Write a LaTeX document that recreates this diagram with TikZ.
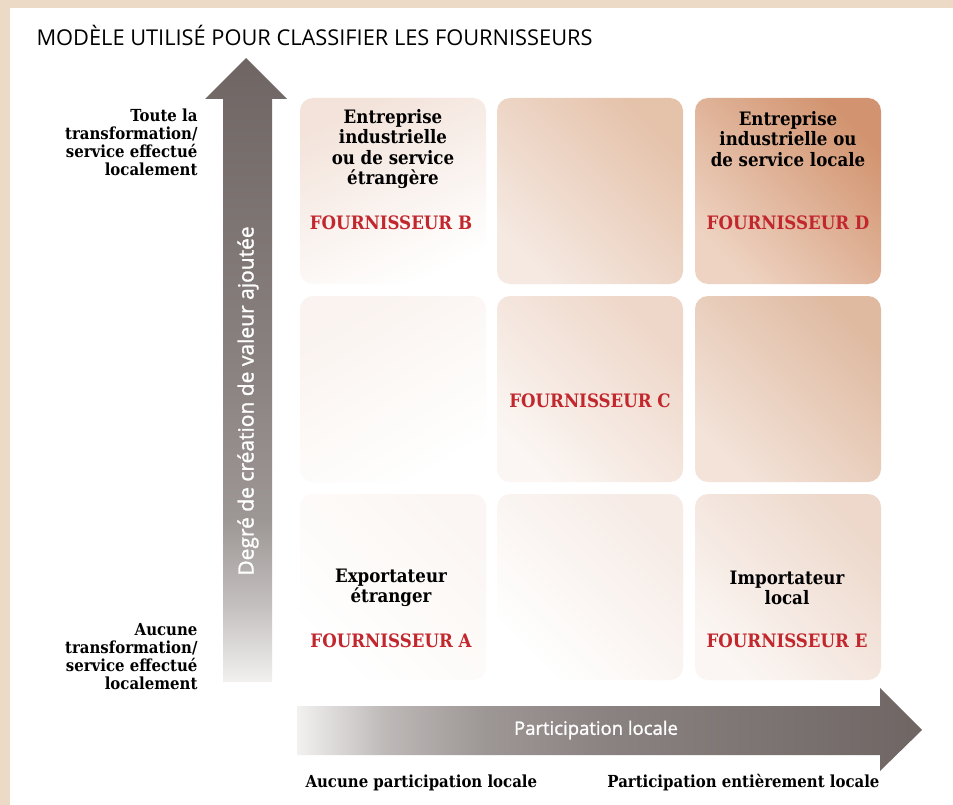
\documentclass[tikz,border=0pt]{standalone}
\usepackage{fontspec}
\setmainfont{DejaVu Serif Condensed}
\setsansfont{Open Sans}
\newfontfamily\axefont{Open Sans}[FakeBold=1.3]
\definecolor{cadre}{HTML}{ECD9C6}
\definecolor{rouge}{HTML}{C1272D}
\definecolor{gris}{HTML}{6F6664}
\definecolor{grismi}{HTML}{8A8280}
\definecolor{grisclair}{HTML}{F2F1F0}
\pgfdeclareverticalshading{flechev}{100bp}{color(0bp)=(grisclair); color(25bp)=(grisclair);
  color(31bp)=(gris!35!grisclair); color(38bp)=(gris!65!grisclair); color(50bp)=(grismi); color(75bp)=(gris); color(100bp)=(gris)}
\pgfdeclarehorizontalshading{flecheh}{100bp}{color(0bp)=(grisclair); color(25bp)=(grisclair);
  color(32bp)=(gris!40!grisclair); color(40bp)=(gris!65!grisclair); color(50bp)=(grismi); color(75bp)=(gris); color(100bp)=(gris)}
\tikzset{
  case/.style={rounded corners=13pt, minimum width=186pt, minimum height=186pt, inner sep=0pt},
  diag/.style={shading angle=-45},
  titrecase/.style={align=center, font=\fontsize{18.5}{20.5}\selectfont\bfseries},
  fournisseur/.style={text=rouge, font=\fontsize{18.5}{20.5}\selectfont\bfseries},
  legende/.style={align=right, font=\fontsize{16.6}{18}\selectfont\bfseries},
  axe/.style={text=white}
}
\begin{document}
\begin{tikzpicture}[x=1pt,y=-1pt]
%					Cadre :
\useasboundingbox (0,0) rectangle (953,805);
\fill[cadre] (0,0) rectangle (953,805);
\fill[white] (10,8) rectangle (953,805);
\node[anchor=west, font=\sffamily\fontsize{21.8}{24}\selectfont] (titre) at (33,35) {MODÈLE UTILISÉ POUR CLASSIFIER LES FOURNISSEURS};
%					Les cases :
\node[case, top color={rgb,255:red,243;green,227;blue,218}, bottom color=white, shading angle=25] (b) at (393,191) {};
\node[case, top color={rgb,255:red,229;green,194;blue,170}, bottom color={rgb,255:red,245;green,233;blue,226}, diag] (bd) at (590,191) {};
\node[case, top color={rgb,255:red,210;green,148;blue,112}, bottom color={rgb,255:red,238;green,211;blue,194}, diag] (d) at (788,191) {};
\node[case, top color={rgb,255:red,250;green,243;blue,239}, bottom color=white, shading angle=30] (m) at (393,389) {};
\node[case, top color={rgb,255:red,238;green,214;blue,200}, bottom color={rgb,255:red,251;green,246;blue,243}, diag] (c) at (590,389) {};
\node[case, top color={rgb,255:red,223;green,186;blue,161}, bottom color={rgb,255:red,243;green,227;blue,217}, diag] (cd) at (788,389) {};
\node[case, top color={rgb,255:red,251;green,246;blue,243}, bottom color=white, diag] (a) at (393,587) {};
\node[case, top color={rgb,255:red,246;green,235;blue,229}, bottom color=white, diag] (ae) at (590,587) {};
\node[case, top color={rgb,255:red,237;green,216;blue,203}, bottom color={rgb,255:red,251;green,246;blue,243}, diag] (e) at (788,587) {};
%					Textes des cases :
\node[titrecase] (tb) at (393,149) {Entreprise\\industrielle\\ou de service\\étrangère};
\node[fournisseur] (fb) at (391,223) {FOURNISSEUR B};
\node[titrecase] (td) at (788,139) {Entreprise\\industrielle ou\\de service locale};
\node[fournisseur] (fd) at (788,223) {FOURNISSEUR D};
\node[fournisseur] (fc) at (590,401) {FOURNISSEUR C};
\node[titrecase] (ta) at (391,588) {Exportateur\\étranger};
\node[fournisseur] (fa) at (391,641) {FOURNISSEUR A};
\node[titrecase] (te) at (787,588) {Importateur\\local};
\node[fournisseur] (fe) at (787,641) {FOURNISSEUR E};
%					Axe vertical :
\shade[shading=flechev] (223,682) -- (223,99) -- (205,99) -- (246,58) -- (287,99) -- (272,99) -- (272,682) -- cycle;
\node[axe, rotate=90, font=\axefont\fontsize{21}{23}\selectfont] (degre) at (248,401) {Degré de création de valeur ajoutée};
\node[legende, anchor=east] (haut) at (201,142) {Toute la\\transformation/\\service effectué\\localement};
\node[legende, anchor=east] (bas) at (201,657) {Aucune\\transformation/\\service effectué\\localement};
%					Axe horizontal :
\shade[shading=flecheh] (297,706) -- (880,706) -- (880,688) -- (922,730) -- (880,771) -- (880,755) -- (297,755) -- cycle;
\node[axe, font=\axefont\fontsize{18.5}{20}\selectfont] (partic) at (596,730) {Participation locale};
\node[legende, anchor=west] (aucune) at (302,783) {Aucune participation locale};
\node[legende, anchor=east] (entiere) at (883,783) {Participation entièrement locale};
\end{tikzpicture}
\end{document}
